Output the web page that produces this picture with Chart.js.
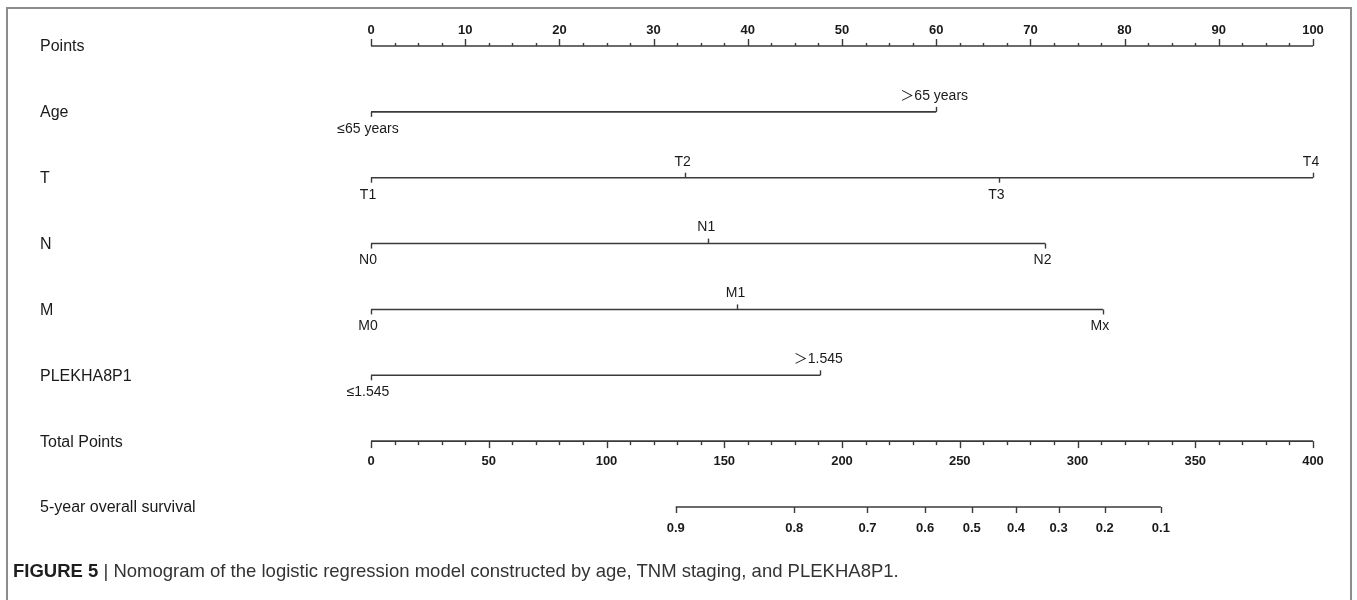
<!DOCTYPE html>
<html>
<head>
<meta charset="utf-8">
<script src="https://cdn.jsdelivr.net/npm/chart.js@4.4.1/dist/chart.umd.min.js"></script>
<style>
  html, body { margin: 0; padding: 0; background: #fff; }
  #wrap { position: relative; width: 1357px; height: 600px; overflow: hidden; }
  #frame { position: absolute; left: 6px; top: 7px; width: 1342px; height: 640px; border: 2px solid #8c8c8c; }
  #c { position: absolute; left: 0; top: 0; }
  #caption { position: absolute; left: 13px; top: 559px; font-family: "Liberation Sans", Arial, sans-serif;
             font-size: 18.5px; color: #333; white-space: nowrap; line-height: 24px; }
  #caption b { color: #1e1e1e; }
</style>
</head>
<body>
<div id="wrap">
  <div id="frame"></div>
  <canvas id="c" width="1357" height="600"></canvas>
  <div id="caption"><b>FIGURE 5</b> | Nomogram of the logistic regression model constructed by age, TNM staging, and PLEKHA8P1.</div>
</div>
<script>
// Row titles, top to bottom
const rowNames = ['Points', 'Age', 'T', 'N', 'M', 'PLEKHA8P1', 'Total Points', '5-year overall survival'];

// Points scale (0-100) labels
const pointsLabels = [0, 10, 20, 30, 40, 50, 60, 70, 80, 90, 100];

// Predictor levels and their points
const ageLevels = ['≤65 years', '＞65 years'];
const agePoints = [0, 60];
const tLevels = ['T1', 'T2', 'T3', 'T4'];
const tPoints = [0, 33.3, 66.7, 100];
const nLevels = ['N0', 'N1', 'N2'];
const nPoints = [0, 35.8, 71.6];
const mLevels = ['M0', 'M1', 'Mx'];
const mPoints = [0, 38.9, 77.7];
const plekhaLevels = ['≤1.545', '＞1.545'];
const plekhaPoints = [0, 47.7];

// Total points scale (0-400) labels
const totalLabels = [0, 50, 100, 150, 200, 250, 300, 350, 400];

// 5-year overall survival probabilities and the total points where they fall
const survivalLabels = ['0.9', '0.8', '0.7', '0.6', '0.5', '0.4', '0.3', '0.2', '0.1'];
const survivalTotals = [129.4, 179.7, 210.8, 235.3, 255.1, 273.9, 292.0, 311.6, 335.4];

const factors = [
  { row: 1, levels: ageLevels, values: agePoints },
  { row: 2, levels: tLevels, values: tPoints },
  { row: 3, levels: nLevels, values: nPoints },
  { row: 4, levels: mLevels, values: mPoints },
  { row: 5, levels: plekhaLevels, values: plekhaPoints }
];

const LINE = '#3a3a3a';
const TEXT = '#1a1a1a';
const segment = (x0, x1, row, axis) => ({
  data: [{ x: x0, y: row }, { x: x1, y: row }],
  xAxisID: axis,
  borderColor: LINE,
  borderWidth: 1.6,
  pointRadius: 0,
  clip: false,
  tension: 0
});

const datasets = [
  segment(pointsLabels[0], pointsLabels[pointsLabels.length - 1], 0, 'x'),
  ...factors.map(f => segment(Math.min(...f.values), Math.max(...f.values), f.row, 'x')),
  segment(totalLabels[0], totalLabels[totalLabels.length - 1], 6, 'xt'),
  segment(survivalTotals[0], survivalTotals[survivalTotals.length - 1], 7, 'xt')
];

const numFont = "bold 13px 'Liberation Sans Narrow', 'Liberation Sans', Arial, sans-serif";
const lvlFont = "14px 'Liberation Sans', Arial, 'Noto Sans CJK SC', sans-serif";
const nameFont = "16px 'Liberation Sans', Arial, sans-serif";

// Draws tick marks, level labels and row titles on top of the segments
const nomogramPlugin = {
  id: 'nomogram',
  afterDatasetsDraw(chart) {
    const { ctx } = chart;
    const { x, xt, y } = chart.scales;
    ctx.save();
    ctx.strokeStyle = LINE;
    ctx.lineWidth = 1.4;
    ctx.fillStyle = TEXT;
    ctx.textBaseline = 'middle';

    const tick = (px, py, len) => {
      ctx.beginPath();
      ctx.moveTo(Math.round(px) + 0.5, py);
      ctx.lineTo(Math.round(px) + 0.5, py + len);
      ctx.stroke();
    };

    // Row titles
    ctx.font = nameFont;
    ctx.textAlign = 'left';
    rowNames.forEach((name, i) => ctx.fillText(name, 40, y.getPixelForValue(i) + 1));

    // Points axis: ticks point up, labels above
    const yP = y.getPixelForValue(0);
    for (let v = 0; v <= 100; v += 2.5) {
      const major = v % 10 === 0;
      tick(x.getPixelForValue(v), yP, major ? -7 : -3);
    }
    ctx.font = numFont;
    ctx.textAlign = 'center';
    pointsLabels.forEach(v => ctx.fillText(String(v), x.getPixelForValue(v), yP - 16));

    // Predictor rows: labels alternate below / above
    ctx.font = lvlFont;
    factors.forEach(f => {
      const py = y.getPixelForValue(f.row);
      f.levels.forEach((lab, i) => {
        const px = x.getPixelForValue(f.values[i]);
        const up = i % 2 === 1;
        tick(px, py, up ? -5 : 5);
        ctx.fillText(lab, up ? px - 2 : px - 3, up ? py - 16 : py + 17);
      });
    });

    // Total points axis: ticks down, labels below
    const yT = y.getPixelForValue(6);
    for (let v = 0; v <= 400; v += 10) {
      tick(xt.getPixelForValue(v), yT, v % 50 === 0 ? 7 : 4);
    }
    ctx.font = numFont;
    totalLabels.forEach(v => ctx.fillText(String(v), xt.getPixelForValue(v), yT + 20));

    // Survival axis
    const yS = y.getPixelForValue(7);
    survivalTotals.forEach((v, i) => {
      const px = xt.getPixelForValue(v);
      tick(px, yS, 6);
      ctx.fillText(survivalLabels[i], px, yS + 21);
    });
    ctx.restore();
  }
};

new Chart(document.getElementById('c'), {
  type: 'line',
  data: { datasets },
  options: {
    responsive: false,
    animation: false,
    events: [],
    layout: { padding: { left: 371, right: 44, top: 46, bottom: 93 } },
    plugins: { legend: { display: false }, tooltip: { enabled: false } },
    scales: {
      x: { type: 'linear', min: 0, max: 100, display: false },
      xt: { type: 'linear', min: 0, max: 400, display: false },
      y: { type: 'linear', min: 0, max: 7, reverse: true, display: false }
    }
  },
  plugins: [nomogramPlugin]
});
</script>
</body>
</html>
